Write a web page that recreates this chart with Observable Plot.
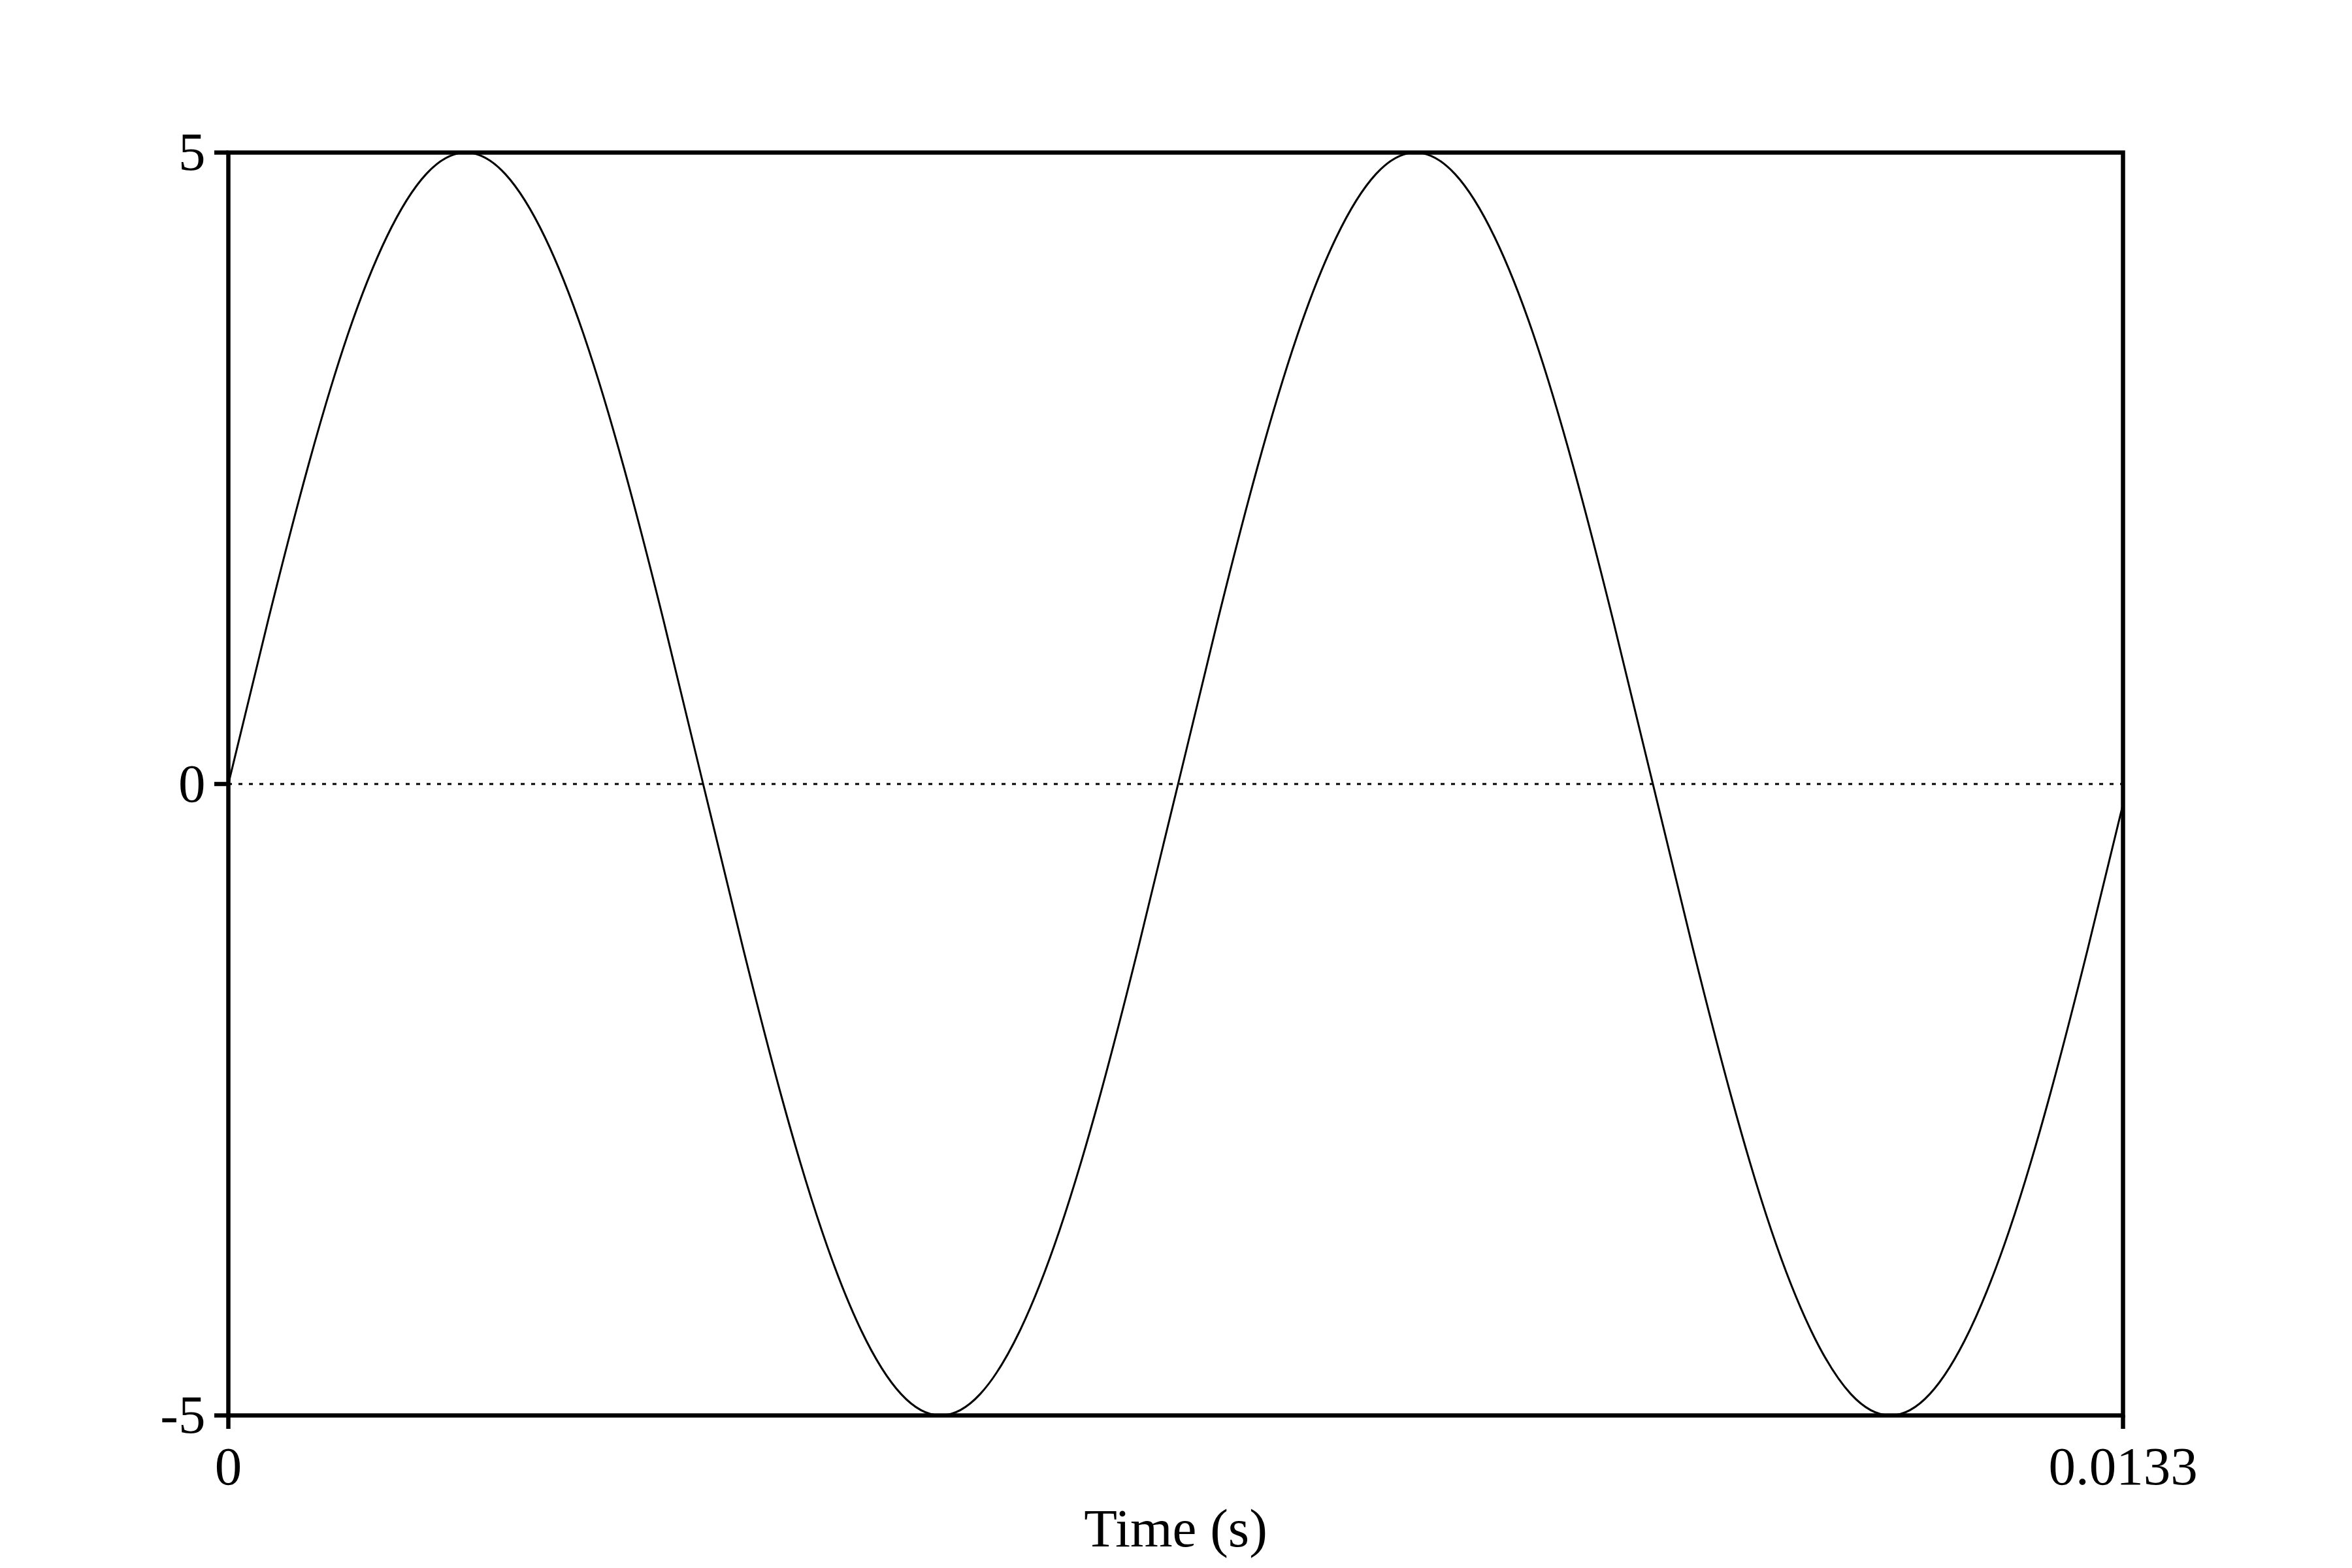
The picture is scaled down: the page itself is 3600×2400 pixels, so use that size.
<!DOCTYPE html>
<html>
<head>
<meta charset="utf-8">
<script src="https://cdn.jsdelivr.net/npm/d3@7"></script>
<script src="https://cdn.jsdelivr.net/npm/@observablehq/plot@0.6"></script>
<style>
  html, body { margin: 0; padding: 0; background: #fff; }
  #chart svg { display: block; }
</style>
</head>
<body>
<div id="chart"></div>
<script>
// Time samples (s)
const time = [0, 0.000278, 0.000556, 0.000833, 0.001111, 0.001389, 0.001667, 0.001944, 0.002222, 0.0025, 0.002778, 0.003056,
  0.003333, 0.003611, 0.003889, 0.004167, 0.004444, 0.004722, 0.005, 0.005278, 0.005556, 0.005833, 0.006111, 0.006389,
  0.006667, 0.006944, 0.007222, 0.0075, 0.007778, 0.008056, 0.008333, 0.008611, 0.008889, 0.009167, 0.009444, 0.009722,
  0.01, 0.010278, 0.010556, 0.010833, 0.011111, 0.011389, 0.011667, 0.011944, 0.012222, 0.0125, 0.012778, 0.013056, 0.0133];
// Amplitude values
const amplitude = [0, 1.29, 2.5, 3.54, 4.33, 4.83, 5, 4.83, 4.33, 3.54, 2.5, 1.29,
  0, -1.29, -2.5, -3.54, -4.33, -4.83, -5, -4.83, -4.33, -3.54, -2.5, -1.29,
  0, 1.29, 2.5, 3.54, 4.33, 4.83, 5, 4.83, 4.33, 3.54, 2.5, 1.29,
  0, -1.29, -2.5, -3.54, -4.33, -4.83, -5, -4.83, -4.33, -3.54, -2.5, -1.29, -0.16];

const xTicks = [0, 0.0133];
const xTickLabels = ["0", "0.0133"];
const yTicks = [-5, 0, 5];
const yTickLabels = ["-5", "0", "5"];
const xLabel = "Time (s)";

const data = time.map((t, i) => ({t, a: amplitude[i]}));

const font = "'Liberation Serif', 'Times New Roman', serif";

const chart = Plot.plot({
  width: 3600,
  height: 2400,
  marginLeft: 349,
  marginRight: 351,
  marginTop: 233,
  marginBottom: 234,
  style: {fontFamily: font, fontSize: "83px", background: "#fff", color: "#000"},
  x: {domain: [0, 0.0133]},
  y: {domain: [-5, 5]},
  marks: [
    Plot.ruleY([0], {stroke: "#000", strokeWidth: 3, strokeDasharray: "6,10"}),
    Plot.line(data, {x: "t", y: "a", stroke: "#000", strokeWidth: 3, curve: "natural"}),
    Plot.frame({stroke: "#000", strokeWidth: 6.5}),
    Plot.axisY({ticks: yTicks, tickFormat: (d) => yTickLabels[yTicks.indexOf(d)], tickSize: 21, tickPadding: 14,
      strokeWidth: 6.5, fontSize: 83, label: null}),
    Plot.axisX({ticks: xTicks, tickFormat: (d) => xTickLabels[xTicks.indexOf(d)], tickSize: 21, tickPadding: 26,
      strokeWidth: 6.5, fontSize: 83, label: xLabel, labelAnchor: "center", labelArrow: "none", labelOffset: 200})
  ]
});

document.getElementById("chart").appendChild(chart);
</script>
</body>
</html>
